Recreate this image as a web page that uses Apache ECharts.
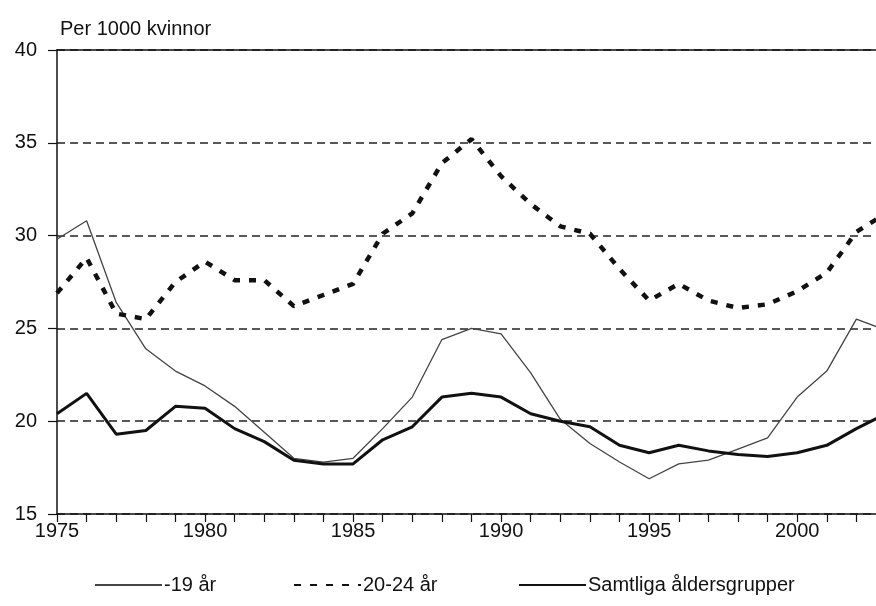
<!DOCTYPE html>
<html>
<head>
<meta charset="utf-8">
<script src="https://cdn.jsdelivr.net/npm/echarts@6/dist/echarts.min.js"></script>
<style>
html,body{margin:0;padding:0;background:#fff;}
#chart{width:876px;height:606px;}
</style>
</head>
<body>
<div id="chart"></div>
<script>
const years = [1975,1976,1977,1978,1979,1980,1981,1982,1983,1984,1985,1986,1987,1988,1989,1990,1991,1992,1993,1994,1995,1996,1997,1998,1999,2000,2001,2002,2003];
const teen = [29.8,30.8,26.4,23.9,22.7,21.9,20.8,19.4,18.0,17.8,18.0,19.6,21.3,24.4,25.0,24.7,22.6,20.1,18.8,17.8,16.9,17.7,17.9,18.5,19.1,21.3,22.7,25.5,24.9];
const young = [26.9,28.8,25.8,25.5,27.5,28.6,27.6,27.6,26.2,26.8,27.4,30.1,31.2,33.9,35.2,33.2,31.7,30.5,30.1,28.2,26.5,27.4,26.5,26.1,26.3,27.0,28.0,30.2,31.2];
const allAges = [20.4,21.5,19.3,19.5,20.8,20.7,19.6,18.9,17.9,17.7,17.7,19.0,19.7,21.3,21.5,21.3,20.4,20.0,19.7,18.7,18.3,18.7,18.4,18.2,18.1,18.3,18.7,19.6,20.4];
const seriesNames = ['-19 år','20-24 år','Samtliga åldersgrupper'];
const yTitle = 'Per 1000 kvinnor';

const FONT = 'Liberation Sans, Arial, sans-serif';
const pair = arr => years.map((y,i)=>[y,arr[i]]);

const chart = echarts.init(document.getElementById('chart'), null, {renderer:'canvas'});
const legendBase = {
  orient:'horizontal', top:570, itemWidth:67, itemHeight:14, itemGap:0,
  textStyle:{fontFamily:FONT,fontSize:20,color:'#111',padding:[0,0,0,-3]},
  itemStyle:{opacity:0},
  selectedMode:false
};
chart.setOption({
  animation:false,
  backgroundColor:'#fff',
  title:{text:yTitle,left:55,top:14,textStyle:{fontFamily:FONT,fontSize:20,fontWeight:'normal',color:'#111'}},
  grid:{left:57,top:50,height:464,width:829,containLabel:false,outerBoundsMode:'none'},
  legend:[
    Object.assign({},legendBase,{left:89,data:[seriesNames[0]]}),
    Object.assign({},legendBase,{left:288,data:[seriesNames[1]]}),
    Object.assign({},legendBase,{left:513,data:[seriesNames[2]]})
  ],
  xAxis:[{
    type:'value',min:1975,max:2003,interval:1,
    axisLine:{show:true,lineStyle:{color:'#111',width:1.5}},
    axisTick:{show:true,inside:false,length:8,lineStyle:{color:'#111',width:1.2}},
    axisLabel:{margin:7,fontFamily:FONT,fontSize:20,color:'#111',
      formatter:v=> (v%5===0 ? String(v) : '')},
    splitLine:{show:false}
  },{
    type:'value',min:1975,max:2003,position:'top',
    axisLine:{show:true,onZero:false,lineStyle:{color:'#111',width:1.5}},
    axisTick:{show:false},axisLabel:{show:false},splitLine:{show:false}
  }],
  yAxis:{
    type:'value',min:15,max:40,interval:5,
    axisLine:{show:true,lineStyle:{color:'#111',width:1.5}},
    axisTick:{show:true,inside:false,length:9,lineStyle:{color:'#111',width:1.2}},
    axisLabel:{margin:20,fontFamily:FONT,fontSize:20,color:'#111'},
    splitLine:{show:true,lineStyle:{color:'#222',width:1.5,type:[8,5]}}
  },
  series:[
    {name:seriesNames[0],type:'line',data:pair(teen),symbol:'none',
     lineStyle:{color:'#444',width:1.3},itemStyle:{color:'#444'},z:3},
    {name:seriesNames[1],type:'line',data:pair(young),symbol:'none',
     lineStyle:{color:'#111',width:4.5,type:[7,9]},itemStyle:{color:'#111'},z:4},
    {name:seriesNames[2],type:'line',data:pair(allAges),symbol:'none',
     lineStyle:{color:'#111',width:3},itemStyle:{color:'#111'},z:5}
  ]
});
</script>
</body>
</html>
